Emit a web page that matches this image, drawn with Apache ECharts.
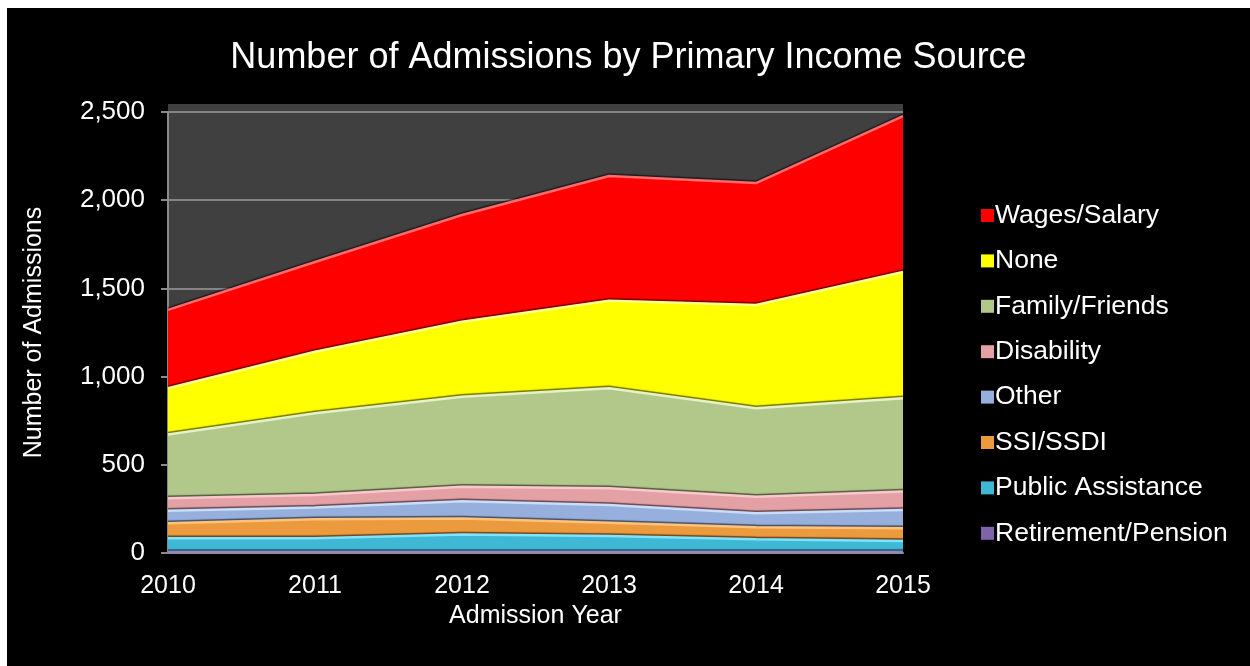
<!DOCTYPE html>
<html>
<head>
<meta charset="utf-8">
<script src="https://cdn.jsdelivr.net/npm/echarts@6/dist/echarts.min.js"></script>
<style>
  html, body { margin: 0; padding: 0; background: #ffffff; }
  #chart { position: absolute; left: 7px; top: 8px; width: 1243px; height: 658px; }
</style>
</head>
<body>
<div id="chart"></div>
<script>
// Admission years (x axis)
const years = ['2010', '2011', '2012', '2013', '2014', '2015'];

// Admissions per primary income source, stacked bottom to top
const retirementPension = [6, 5, 6, 6, 5, 5];
const publicAssistance  = [77, 78, 99, 90, 73, 63];
const ssiSsdi           = [85, 108, 90, 76, 68, 72];
const other             = [72, 67, 98, 100, 79, 104];
const disability        = [70, 71, 83, 95, 94, 104];
const familyFriends     = [362, 463, 510, 567, 501, 529];
const none              = [262, 349, 425, 496, 586, 716];
const wagesSalary       = [444, 509, 605, 707, 691, 884];

// Y axis ticks
const yTicks = [0, 500, 1000, 1500, 2000, 2500];

const layers = [
  { name: 'Retirement/Pension', data: retirementPension, color: '#7f63a8', light: '#9a82bf' },
  { name: 'Public Assistance',  data: publicAssistance,  color: '#3fb8d6', light: '#7fe4fb' },
  { name: 'SSI/SSDI',           data: ssiSsdi,           color: '#ec9a3e', light: '#ffc27a' },
  { name: 'Other',              data: other,             color: '#97afdc', light: '#c8dcfb' },
  { name: 'Disability',         data: disability,        color: '#e3a0a5', light: '#fac8cc' },
  { name: 'Family/Friends',     data: familyFriends,     color: '#b2c78a', light: '#e4f2c6' },
  { name: 'None',               data: none,              color: '#ffff00', light: '#ffff8a' },
  { name: 'Wages/Salary',       data: wagesSalary,       color: '#ff0000', light: '#ff6a6a' }
];

const FONT = '"Liberation Sans", Arial, sans-serif';

const chart = echarts.init(document.getElementById('chart'), null, { renderer: 'canvas' });

const series = layers.map(l => ({
  name: l.name,
  type: 'line',
  stack: 'total',
  data: l.data,
  symbol: 'none',
  smooth: false,
  itemStyle: { color: l.color },
  lineStyle: {
    color: l.light,
    width: 2.5,
    shadowColor: 'rgba(0,0,0,0.55)',
    shadowBlur: 1,
    shadowOffsetY: -1.5
  },
  areaStyle: {
    color: l.color,
    opacity: 1
  },
  emphasis: { disabled: true }
}));

chart.setOption({
  backgroundColor: '#000000',
  animation: false,
  title: {
    text: 'Number of Admissions by Primary Income Source',
    left: 'center',
    top: 27,
    textStyle: { color: '#ffffff', fontFamily: FONT, fontSize: 36, fontWeight: 'normal' }
  },
  graphic: [{
    type: 'rect',
    z: -10,
    silent: true,
    shape: { x: 161, y: 96, width: 735, height: 449 },
    style: { fill: '#404040' }
  }],
  grid: { left: 161, right: 347, top: 104, bottom: 113 },
  legend: {
    orient: 'vertical',
    left: 969,
    top: 189,
    data: layers.map(l => l.name).reverse(),
    icon: 'rect',
    itemWidth: 13,
    itemHeight: 13,
    itemGap: 18.4,
    textStyle: { color: '#ffffff', fontFamily: FONT, fontSize: 26.5, lineHeight: 26, padding: [0, 0, 0, -4] }
  },
  xAxis: {
    type: 'category',
    data: years,
    boundaryGap: false,
    name: 'Admission Year',
    nameLocation: 'middle',
    nameGap: 23,
    nameTextStyle: { color: '#ffffff', fontFamily: FONT, fontSize: 25, verticalAlign: 'top' },
    axisLine: { show: true, lineStyle: { color: '#8a8a8a', width: 2 } },
    axisTick: { show: false },
    axisLabel: { color: '#ffffff', fontFamily: FONT, fontSize: 25, margin: 21 },
    splitLine: { show: false }
  },
  yAxis: {
    type: 'value',
    min: yTicks[0],
    max: yTicks[yTicks.length - 1],
    interval: yTicks[1] - yTicks[0],
    name: 'Number of Admissions',
    nameLocation: 'middle',
    nameGap: 121,
    nameRotate: 90,
    nameTextStyle: { color: '#ffffff', fontFamily: FONT, fontSize: 25 },
    axisLine: { show: true, lineStyle: { color: '#8a8a8a', width: 2 } },
    axisTick: { show: true, inside: false, length: 7, lineStyle: { color: '#8a8a8a', width: 2 } },
    axisLabel: {
      color: '#ffffff', fontFamily: FONT, fontSize: 26, margin: 23,
      formatter: v => v.toLocaleString('en-US')
    },
    splitLine: { show: true, lineStyle: { color: '#858585', width: 2 } }
  },
  series: series
});
</script>
</body>
</html>
